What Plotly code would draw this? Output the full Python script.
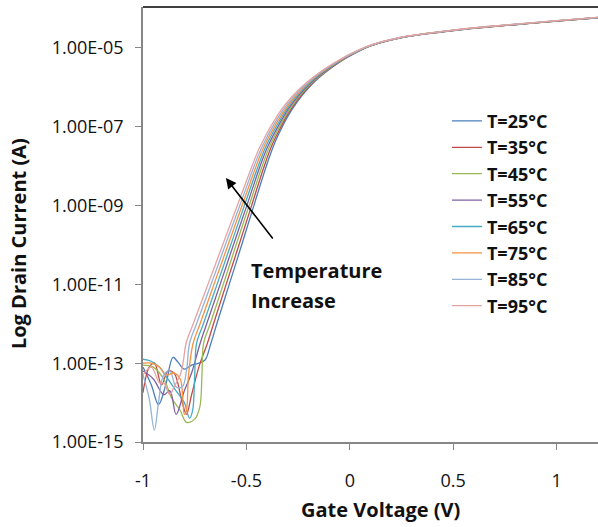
import numpy as np
import plotly.graph_objects as go

# Temperatures (degrees C) and trace colours
TEMPS = [25, 35, 45, 55, 65, 75, 85, 95]
COLORS = ["#4A7EBB", "#BE4B48", "#98B954", "#7D60A0",
          "#46AAC5", "#F69240", "#95B3D7", "#E6A3A1"]

# Off-state (noise floor) region: gate voltage (V) and log10 drain current (A)
V_OFF = {
    25: [-1.0, -0.96, -0.925, -0.89, -0.855, -0.83, -0.80, -0.765, -0.73, -0.70],
    35: [-1.0, -0.97, -0.945, -0.91, -0.88, -0.85, -0.81, -0.79, -0.765, -0.73],
    45: [-1.0, -0.95, -0.90, -0.86, -0.82, -0.79, -0.75, -0.725, -0.715],
    55: [-1.0, -0.95, -0.90, -0.87, -0.84, -0.80, -0.765],
    65: [-1.0, -0.96, -0.92, -0.88, -0.84, -0.80, -0.775, -0.76, -0.75],
    75: [-1.0, -0.96, -0.92, -0.89, -0.85, -0.82, -0.80, -0.79, -0.78],
    85: [-1.0, -0.97, -0.945, -0.925, -0.90, -0.87, -0.84, -0.81, -0.79],
    95: [-1.0, -0.96, -0.92, -0.90, -0.87, -0.85, -0.82, -0.805],
}
LOG_OFF = {
    25: [-13.10, -13.55, -14.05, -13.55, -12.85, -12.98, -13.15, -13.05, -13.00, -12.92],
    35: [-13.75, -13.10, -13.00, -13.55, -13.20, -13.25, -14.00, -14.30, -13.80, -13.10],
    45: [-13.05, -13.10, -13.40, -13.90, -14.20, -14.50, -14.42, -14.10, -13.30],
    55: [-13.20, -13.40, -13.80, -13.70, -14.30, -13.70, -13.25],
    65: [-12.90, -12.95, -13.10, -13.40, -13.70, -14.00, -14.40, -14.20, -13.30],
    75: [-13.00, -13.00, -13.10, -13.30, -13.25, -13.40, -14.30, -14.20, -13.30],
    85: [-13.30, -13.90, -14.70, -14.00, -13.30, -13.20, -13.60, -13.60, -13.20],
    95: [-13.30, -13.10, -13.50, -13.50, -13.80, -13.60, -13.30, -12.95],
}

# Subthreshold region: gate voltage reached at each current level
LOG_SUB = [-12.5, -12.0, -11.0, -10.0, -9.0, -8.0, -7.5]
V_SUB = {
    25: [-0.672, -0.643, -0.583, -0.523, -0.464, -0.404, -0.370],
    35: [-0.689, -0.659, -0.598, -0.536, -0.475, -0.414, -0.379],
    45: [-0.707, -0.675, -0.612, -0.550, -0.487, -0.424, -0.388],
    55: [-0.724, -0.692, -0.627, -0.563, -0.498, -0.434, -0.397],
    65: [-0.741, -0.708, -0.642, -0.576, -0.510, -0.443, -0.406],
    75: [-0.758, -0.724, -0.657, -0.589, -0.521, -0.453, -0.415],
    85: [-0.775, -0.741, -0.671, -0.602, -0.532, -0.463, -0.424],
    95: [-0.792, -0.757, -0.686, -0.615, -0.544, -0.473, -0.434],
}

# Knee and on-state region: log10 drain current at each gate voltage
V_ON = [-0.35, -0.30, -0.25, -0.20, -0.15, -0.10, -0.05,
        0.0, 0.1, 0.25, 0.45, 0.6, 0.8, 1.0, 1.2]
LOG_ON = {
    25: [-7.255, -6.735, -6.333, -6.015, -5.757, -5.544, -5.362,
         -5.203, -4.950, -4.740, -4.590, -4.500, -4.410, -4.320, -4.235],
    35: [-7.177, -6.681, -6.296, -5.989, -5.739, -5.532, -5.353,
         -5.197, -4.947, -4.738, -4.588, -4.498, -4.408, -4.318, -4.233],
    45: [-7.099, -6.627, -6.259, -5.964, -5.722, -5.519, -5.345,
         -5.190, -4.944, -4.736, -4.586, -4.496, -4.406, -4.316, -4.231],
    55: [-7.021, -6.573, -6.222, -5.938, -5.704, -5.507, -5.336,
         -5.184, -4.941, -4.734, -4.584, -4.494, -4.404, -4.314, -4.229],
    65: [-6.942, -6.519, -6.185, -5.912, -5.686, -5.495, -5.327,
         -5.177, -4.938, -4.732, -4.582, -4.492, -4.402, -4.312, -4.227],
    75: [-6.864, -6.466, -6.148, -5.886, -5.668, -5.482, -5.318,
         -5.171, -4.935, -4.730, -4.580, -4.490, -4.400, -4.310, -4.225],
    85: [-6.786, -6.412, -6.110, -5.861, -5.651, -5.470, -5.310,
         -5.165, -4.932, -4.728, -4.578, -4.488, -4.398, -4.308, -4.223],
    95: [-6.708, -6.358, -6.073, -5.835, -5.633, -5.457, -5.301,
         -5.158, -4.929, -4.726, -4.576, -4.486, -4.396, -4.306, -4.221],
}

Y_TICKS = [1e-15, 1e-13, 1e-11, 1e-9, 1e-7, 1e-5]
Y_TICK_TEXT = ["1.00E-15", "1.00E-13", "1.00E-11", "1.00E-09", "1.00E-07", "1.00E-05"]
X_TICKS = [-1, -0.5, 0, 0.5, 1]
X_TICK_TEXT = ["-1", "-0.5", "0", "0.5", "1"]

FONT = "'Open Sans', Lato, sans-serif"
BOLD = dict(family=FONT, size=20, color="#111", weight="bold")

fig = go.Figure()
for t, c in zip(TEMPS, COLORS):
    v = V_OFF[t] + V_SUB[t] + V_ON
    log_i = LOG_OFF[t] + LOG_SUB + LOG_ON[t]
    fig.add_trace(go.Scatter(
        x=v, y=10 ** np.array(log_i), mode="lines", name=f"T={t}°C",
        line=dict(color=c, width=1.3, shape="spline", smoothing=1.0),
    ))

axis_common = dict(
    showgrid=False, zeroline=False, showline=True, linecolor="#868686",
    linewidth=1.5, ticks="outside", ticklen=6, tickcolor="#868686",
    tickwidth=1.2, tickfont=dict(family=FONT, size=18, color="#111"),
)

fig.update_xaxes(range=[-1, 1.2], tickvals=X_TICKS, ticktext=X_TICK_TEXT,
                 ticklabelstandoff=16, **axis_common)
fig.update_yaxes(type="log", range=[-15, -3.96], tickvals=Y_TICKS,
                 ticktext=Y_TICK_TEXT, ticklabelstandoff=8, **axis_common)

fig.update_layout(
    width=598, height=527,
    margin=dict(l=143, r=0, t=7, b=85),
    plot_bgcolor="white", paper_bgcolor="white",
    legend=dict(x=0.668, y=0.780, xanchor="left", yanchor="top",
                bgcolor="rgba(0,0,0,0)",
                font=dict(family=FONT, size=18, color="#111", weight="bold")),
    shapes=[dict(type="line", xref="paper", yref="paper", x0=0, x1=1,
                 y0=1, y1=1, line=dict(color="#404040", width=2))],
    annotations=[
        dict(text="Gate Voltage (V)", xref="paper", yref="paper",
             x=0.521, y=-0.156, showarrow=False, xanchor="center",
             yanchor="middle", font=BOLD),
        dict(text="Log Drain Current (A)", xref="paper", yref="paper",
             x=-0.275, y=0.457, showarrow=False, textangle=-90,
             xanchor="center", yanchor="middle", font=BOLD),
        dict(text="", x=-0.599, y=-8.30, xref="x", yref="y", showarrow=True,
             ax=48, ay=62, arrowhead=2, arrowsize=1.3, arrowwidth=1.6,
             arrowcolor="black", standoff=0),
        dict(text="Temperature", x=-0.488, y=-10.66, xref="x", yref="y",
             showarrow=False, xanchor="left", yanchor="middle", font=BOLD),
        dict(text="Increase", x=-0.488, y=-11.40, xref="x", yref="y",
             showarrow=False, xanchor="left", yanchor="middle", font=BOLD),
    ],
)

fig.write_html("out.html")
